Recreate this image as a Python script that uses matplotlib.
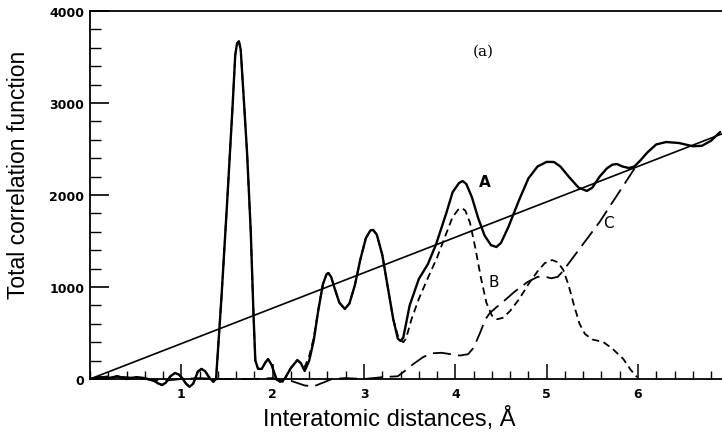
import matplotlib
matplotlib.use("Agg")
import matplotlib.pyplot as plt
from matplotlib.ticker import MultipleLocator

# low-r part shared by curves A and B (x < 2.3)
low_x = [0.0, 0.1, 0.2, 0.3, 0.4, 0.5, 0.6, 0.7, 0.75, 0.79, 0.83, 0.88, 0.93, 0.97,
         1.01, 1.05, 1.09, 1.13, 1.18, 1.22, 1.26, 1.31, 1.35, 1.38, 1.44, 1.50, 1.56,
         1.59, 1.61, 1.63, 1.65, 1.68, 1.72, 1.76, 1.79, 1.81, 1.84, 1.88, 1.92, 1.95,
         1.99, 2.04, 2.08, 2.13, 2.2, 2.27, 2.31]
low_y = [0, 20, 10, 30, 0, 20, 10, -20, -50, -65, -40, 30, 65, 50,
         10, -50, -85, -50, 80, 110, 85, 10, -30, 0, 900, 1900, 2950,
         3520, 3650, 3670, 3580, 3100, 2450, 1600, 700, 200, 110, 110, 180, 217,
         150, 0, -30, 0, 120, 206, 170]

# curve A: total correlation function (solid), x >= 2.35
a_hi_x = [2.35, 2.40, 2.45, 2.50, 2.55, 2.59, 2.61, 2.64, 2.68, 2.73, 2.79, 2.84, 2.9,
          2.96, 3.02, 3.07, 3.10, 3.14, 3.2, 3.26, 3.32, 3.37, 3.40, 3.43, 3.5, 3.6,
          3.7, 3.79, 3.9, 3.97, 4.04, 4.08, 4.12, 4.18, 4.25, 4.32, 4.39, 4.45, 4.5,
          4.58, 4.7, 4.8, 4.9, 5.0, 5.08, 5.15, 5.25, 5.35, 5.44, 5.5, 5.58, 5.66,
          5.72, 5.77, 5.83, 5.9, 5.96, 6.03, 6.1, 6.2, 6.31, 6.45, 6.6, 6.7, 6.8, 6.9]
a_hi_y = [87, 200, 420, 750, 1030, 1140, 1152, 1110, 980, 830, 761, 820, 1020,
          1300, 1530, 1615, 1620, 1570, 1350, 1000, 650, 440, 413, 450, 800, 1087,
          1250, 1467, 1800, 2030, 2130, 2152, 2120, 1980, 1750, 1560, 1455, 1435, 1480,
          1650, 1950, 2180, 2310, 2360, 2359, 2310, 2190, 2080, 2044, 2080, 2200, 2290,
          2330, 2337, 2310, 2293, 2310, 2380, 2460, 2550, 2576, 2565, 2530, 2535, 2590, 2685]

# curve B (short dashes), x >= 2.35
b_hi_x = [2.35, 2.40, 2.45, 2.50, 2.55, 2.59, 2.61, 2.64, 2.68, 2.73, 2.79, 2.84, 2.9,
          2.96, 3.02, 3.07, 3.10, 3.14, 3.2, 3.26, 3.32, 3.38, 3.43, 3.46, 3.52, 3.6,
          3.7, 3.8, 3.9, 3.97, 4.03, 4.07, 4.11, 4.16, 4.22, 4.28, 4.34, 4.4, 4.46,
          4.52, 4.6, 4.7, 4.8, 4.9, 4.98, 5.06, 5.12, 5.18, 5.24, 5.3, 5.36, 5.42,
          5.5, 5.62, 5.72, 5.84, 5.92, 5.99]
b_hi_y = [130, 250, 450, 760, 1030, 1140, 1152, 1110, 980, 830, 761, 820, 1020,
          1300, 1530, 1615, 1620, 1570, 1350, 1000, 650, 440, 400, 440, 650, 870,
          1100, 1320, 1580, 1760, 1840, 1859, 1830, 1700, 1420, 1100, 830, 690, 650,
          665, 740, 870, 1030, 1170, 1260, 1293, 1270, 1190, 1020, 800, 600, 489,
          430, 402, 330, 217, 100, 20]

# curve C (long dashes)
c_x = [0.0, 0.2, 0.4, 0.6, 0.8, 1.0, 1.2, 1.4, 1.6, 1.8, 2.0, 2.1, 2.2, 2.35,
       2.45, 2.55, 2.65, 2.8, 3.0, 3.2, 3.37, 3.45, 3.54, 3.65, 3.75, 3.85, 3.95,
       4.05, 4.14, 4.2, 4.27, 4.33, 4.38, 4.45, 4.52, 4.65, 4.79, 4.9, 4.97, 5.05,
       5.12, 5.17, 5.58, 5.98]
c_y = [0, 30, 20, 0, -20, 0, 10, 0, 0, 0, 10, -30, -20, -70,
       -80, -40, 0, 10, 0, 20, 30, 90, 163, 240, 280, 285, 270,
       255, 270, 340, 500, 650, 720, 780, 837, 950, 1054, 1110, 1115, 1095,
       1110, 1163, 1707, 2315]

# straight reference line
line_x = [0.0, 6.92]
line_y = [0, 2665]

a_x = low_x + a_hi_x
a_y = low_y + a_hi_y
b_x = low_x + b_hi_x
b_y = low_y + b_hi_y

fig = plt.figure(figsize=(7.22, 4.35), dpi=100)
ax = fig.add_axes([0.1247, 0.1264, 0.8753, 0.846])

ax.plot(a_x, a_y, color="black", lw=1.7, clip_on=False,
        solid_joinstyle="round", solid_capstyle="round")
ax.plot(b_x, b_y, color="black", lw=1.3, dashes=(4, 2.5), clip_on=False)
ax.plot(c_x, c_y, color="black", lw=1.3, dashes=(10, 4), clip_on=False)
ax.plot(line_x, line_y, color="black", lw=1.2, clip_on=False)

ax.set_xlim(0, 6.92)
ax.set_ylim(0, 4000)

ax.spines["right"].set_visible(False)
for s in ["left", "bottom", "top"]:
    ax.spines[s].set_linewidth(1.3)

ax.xaxis.set_major_locator(MultipleLocator(1))
ax.xaxis.set_minor_locator(MultipleLocator(0.2))
ax.yaxis.set_major_locator(MultipleLocator(1000))
ax.yaxis.set_minor_locator(MultipleLocator(200))

ax.set_xticks([1, 2, 3, 4, 5, 6])
ax.tick_params(axis="x", which="major", direction="in", length=11, width=1.1,
               top=False, labelsize=9, pad=6)
ax.tick_params(axis="x", which="minor", direction="in", length=6, width=1.0, top=False)
ax.tick_params(axis="y", which="major", direction="in", length=14, width=1.2,
               right=False, labelsize=9, pad=4)
ax.tick_params(axis="y", which="minor", direction="in", length=8, width=1.0, right=False)
for lab in ax.get_xticklabels() + ax.get_yticklabels():
    lab.set_fontweight("bold")

ax.set_xlabel("Interatomic distances, Å", fontsize=17, family="Liberation Sans")
ax.set_ylabel("Total correlation function", fontsize=16.5, family="Liberation Sans")
ax.xaxis.set_label_coords(0.473, -0.072)
ax.yaxis.set_label_coords(-0.095, 0.557)

ax.text(4.32, 2152, "A", fontsize=11, fontweight="bold", family="DejaVu Sans", ha="center", va="center")
ax.text(4.42, 1065, "B", fontsize=11, family="DejaVu Sans", ha="center", va="center")
ax.text(5.68, 1706, "C", fontsize=11, family="DejaVu Sans", ha="center", va="center")
ax.text(4.31, 3565, "(a)", fontsize=11, family="DejaVu Serif", ha="center", va="center")

fig.savefig("out.png", dpi=100)
